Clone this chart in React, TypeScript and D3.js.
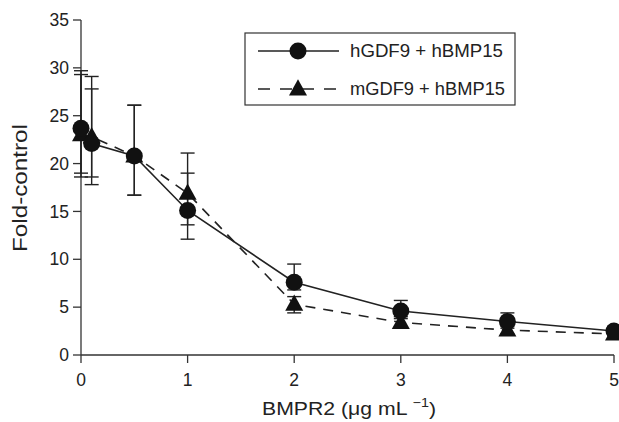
import React from "react";
import * as d3 from "d3";

const doses = [0, 0.1, 0.5, 1, 2, 3, 4, 5];
const hMean = [23.7, 22.1, 20.8, 15.1, 7.6, 4.6, 3.5, 2.5];
const hHi = [29.7, 27.8, 26.1, 19.0, 9.5, 5.7, 4.4, 3.0];
const hLo = [18.6, 17.8, 16.7, 12.1, 6.8, 3.8, 2.8, 2.2];
const mMean = [23.0, 22.8, 20.8, 16.9, 5.3, 3.4, 2.6, 2.2];
const mHi = [29.3, 29.1, 26.1, 21.1, 6.1, 4.0, 3.0, 2.5];
const mLo = [19.0, 18.6, 16.7, 13.6, 4.4, 2.9, 2.2, 2.0];
const xTicks = [0, 1, 2, 3, 4, 5];
const yTicks = [0, 5, 10, 15, 20, 25, 30, 35];
const seriesNames = ["hGDF9 + hBMP15", "mGDF9 + hBMP15"];

const W = 619, H = 422;
const x = d3.scaleLinear().domain([0, 5]).range([81, 614]);
const y = d3.scaleLinear().domain([0, 35]).range([355, 20]);
const font = "'Liberation Sans', Arial, Helvetica, sans-serif";
const ink = "#222";

function tri(cx: number, cy: number, s: number) {
  const h = s * 0.9;
  return `M${cx},${cy - h * 0.6}L${cx + s / 2},${cy + h * 0.4}L${cx - s / 2},${cy + h * 0.4}Z`;
}

export default function App() {
  const line = d3.line<number>().x((d, i) => x(doses[i])).y((d) => y(d));
  const cap = 7;
  const errBars = (mean: number[], hi: number[], lo: number[], key: string) =>
    doses.map((d, i) => {
      const cx = x(d);
      return (
        <g key={key + i} stroke={ink} strokeWidth={1.4}>
          <line x1={cx} x2={cx} y1={y(hi[i])} y2={y(lo[i])} />
          <line x1={cx - cap} x2={cx + cap} y1={y(hi[i])} y2={y(hi[i])} />
          <line x1={cx - cap} x2={cx + cap} y1={y(lo[i])} y2={y(lo[i])} />
        </g>
      );
    });
  return (
    <svg width={W} height={H} style={{ position: "absolute", left: 0, top: 0, background: "#fff" }}>
      <rect width={W} height={H} fill="#fff" />
      {/* axes */}
      <g stroke="#333" strokeWidth={1.3}>
        <line x1={x(0)} x2={x(0)} y1={y(35)} y2={y(0)} />
        <line x1={x(0)} x2={x(5)} y1={y(0)} y2={y(0)} />
        {yTicks.map((t) => (
          <line key={"yt" + t} x1={x(0) - 8} x2={x(0)} y1={y(t)} y2={y(t)} />
        ))}
        {xTicks.map((t) => (
          <line key={"xt" + t} x1={x(t)} x2={x(t)} y1={y(0)} y2={y(0) + 8} />
        ))}
      </g>
      <g fontFamily={font} fontSize={17.5} fill={ink}>
        {yTicks.map((t) => (
          <text key={"yl" + t} x={x(0) - 12} y={y(t)} dy="0.35em" textAnchor="end">{t}</text>
        ))}
        {xTicks.map((t) => (
          <text key={"xl" + t} x={x(t)} y={386} textAnchor="middle">{t}</text>
        ))}
      </g>
      <text x={262} y={414.5} fontFamily={font} fontSize={18.5} fill={ink} textLength={174} lengthAdjust="spacingAndGlyphs">
        BMPR2 (μg mL <tspan dy={-8} fontSize={12.5}>−1</tspan><tspan dy={8}>)</tspan>
      </text>
      <text transform={`translate(27,252) rotate(-90)`} fontFamily={font} fontSize={19.5} fill={ink} textLength={128} lengthAdjust="spacingAndGlyphs">
        Fold-control
      </text>
      {/* error bars */}
      {errBars(mMean, mHi, mLo, "m")}
      {errBars(hMean, hHi, hLo, "h")}
      {/* lines */}
      <path d={line(mMean) || ""} fill="none" stroke={ink} strokeWidth={1.6} strokeDasharray="10,8" />
      <path d={line(hMean) || ""} fill="none" stroke={ink} strokeWidth={1.6} />
      {/* markers */}
      {mMean.map((v, i) => (
        <path key={"mt" + i} d={tri(x(doses[i]), y(v), 18)} fill="#111" />
      ))}
      {hMean.map((v, i) => (
        <circle key={"hc" + i} cx={x(doses[i])} cy={y(v)} r={8.5} fill="#111" />
      ))}
      {/* legend */}
      <g>
        <rect x={245} y={33} width={270} height={72} fill="#fff" stroke="#333" strokeWidth={1.2} />
        <line x1={258} x2={339} y1={51} y2={51} stroke={ink} strokeWidth={1.6} />
        <circle cx={298} cy={51} r={8.5} fill="#111" />
        <line x1={258} x2={339} y1={89} y2={89} stroke={ink} strokeWidth={1.6} strokeDasharray="12,10" />
        <path d={tri(298, 89, 18)} fill="#111" />
        <text x={350} y={51} dy="0.35em" fontFamily={font} fontSize={18} fill={ink} textLength={153} lengthAdjust="spacingAndGlyphs">{seriesNames[0]}</text>
        <text x={350} y={89} dy="0.35em" fontFamily={font} fontSize={18} fill={ink} textLength={155} lengthAdjust="spacingAndGlyphs">{seriesNames[1]}</text>
      </g>
    </svg>
  );
}
